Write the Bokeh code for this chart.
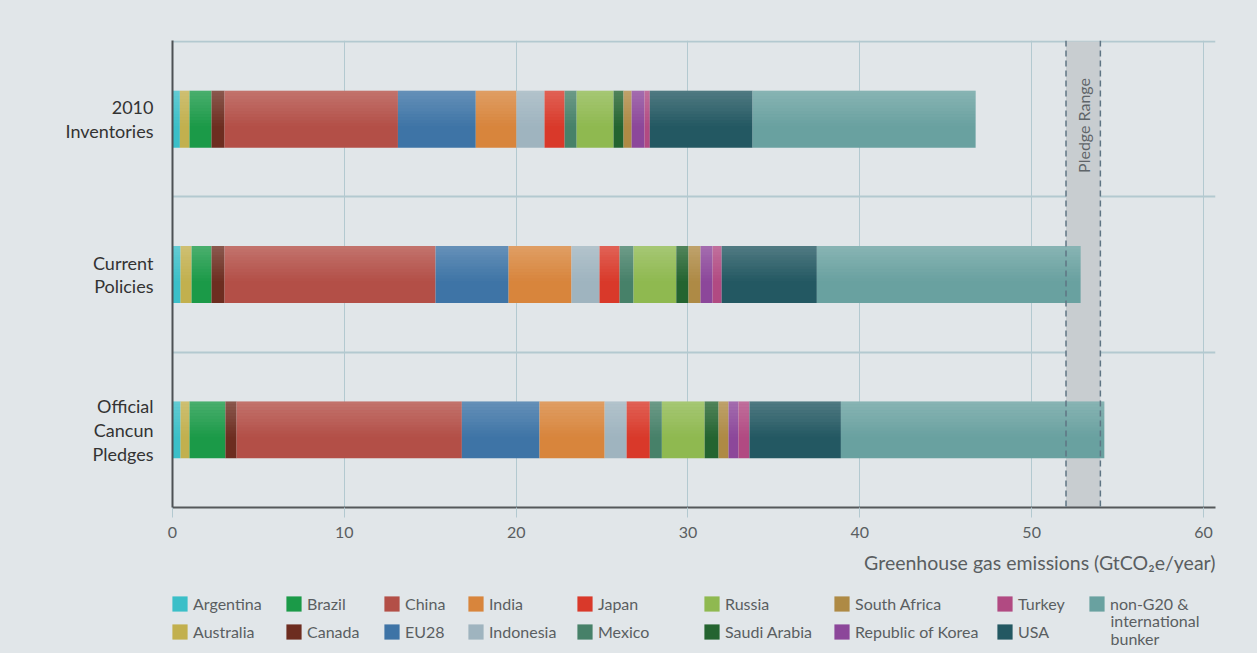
import math
from bokeh.plotting import figure
from bokeh.layouts import column
from bokeh.models import Range1d, FixedTicker, Span, Label, Legend, LegendItem
from bokeh.embed import file_html
from bokeh.resources import INLINE

# ---------------- data ----------------
countries = ["Argentina", "Australia", "Brazil", "Canada", "China", "EU28", "India",
             "Indonesia", "Japan", "Mexico", "Russia", "Saudi Arabia", "South Africa",
             "Republic of Korea", "Turkey", "USA", "non-G20 &"]
colors = ["#3bbfc8", "#c2b04e", "#1b9a48", "#6d2d20", "#b34f47", "#3e74a6", "#d8853c",
          "#9fb4bf", "#d9392a", "#478169", "#8fb950", "#246430", "#ae8a45",
          "#8c479a", "#b14a82", "#235862", "#69a1a0"]

scenarios = ["2010\nInventories", "Current\nPolicies", "Official\nCancun\nPledges"]
inventories_2010 = [0.43, 0.56, 1.28, 0.76, 10.09, 4.53, 2.37, 1.63, 1.17, 0.70, 2.15,
                    0.58, 0.47, 0.75, 0.31, 5.98, 12.98]
current_policies = [0.47, 0.64, 1.16, 0.76, 12.28, 4.25, 3.66, 1.63, 1.17, 0.81, 2.49,
                    0.71, 0.70, 0.70, 0.53, 5.54, 15.35]
cancun_pledges = [0.47, 0.52, 2.09, 0.65, 13.11, 4.52, 3.79, 1.28, 1.35, 0.70, 2.49,
                  0.81, 0.58, 0.58, 0.64, 5.32, 15.33]
pledge_range = [52, 54]
x_ticks = [0, 10, 20, 30, 40, 50, 60]
axis_title = "Greenhouse gas emissions (GtCO\u2082e/year)"
extra_label_lines = ["international", "bunker"]

series = [inventories_2010, current_policies, cancun_pledges]
y_pos = [2.5, 1.5, 0.5]

BG = "#e1e6e9"
GRID = "#b3c9d0"
TXT = "#5a5e61"
FONT = "Lato"
W = 1257
L, R = 172, 42

p = figure(width=W, height=548, output_backend="svg", toolbar_location=None,
           x_range=Range1d(0, 60.7), y_range=Range1d(0, 3.007),
           min_border_left=L, min_border_right=R, min_border_top=40,
           min_border_bottom=41, background_fill_color=BG, border_fill_color=BG,
           outline_line_color=None)

# pledge range band (behind bars)
p.quad(left=[pledge_range[0]], right=[pledge_range[1]], bottom=[0], top=[3],
       fill_color="#c8cdd0", line_color=None)

bar_h = 0.366
for i, name in enumerate(countries):
    lefts = [sum(s[:i]) for s in series]
    rights = [sum(s[:i + 1]) for s in series]
    p.hbar(y=y_pos, left=lefts, right=rights, height=bar_h,
           fill_color=colors[i], line_color=None)

# soft gradient sheen on top of bars
totals = [sum(s) for s in series]
n = 12
strip_h = 0.62 * bar_h / n
for k in range(n):
    a = 0.2 * (1 - k / n)
    ys = [c + bar_h / 2 - strip_h * (k + 0.5) for c in y_pos]
    p.hbar(y=ys, left=[0] * 3, right=totals, height=strip_h,
           fill_color="white", fill_alpha=a, line_color=None)

# dashed pledge lines
for v in pledge_range:
    p.add_layout(Span(location=v, dimension="height", line_color="#5f7584",
                      line_dash="6 4", line_width=1.5))
p.add_layout(Label(x=(pledge_range[0] + pledge_range[1]) / 2, y=2.46, text="Pledge Range",
                   angle=math.pi / 2, text_align="center", text_baseline="middle",
                   text_font=FONT, text_font_size="16px", text_color="#5f6569"))

# axes
p.xaxis.ticker = FixedTicker(ticks=x_ticks)
p.xaxis.axis_line_color = "#55585b"
p.xaxis.axis_line_width = 2
p.xaxis.major_tick_line_color = GRID
p.xaxis.major_tick_out = 10
p.xaxis.major_tick_in = 0
p.xaxis.minor_tick_line_color = None
p.xaxis.major_label_standoff = 9
p.xaxis.major_label_text_font = FONT
p.xaxis.major_label_text_font_size = "16px"
p.xaxis.major_label_text_color = TXT

p.yaxis.ticker = FixedTicker(ticks=y_pos)
p.yaxis.major_label_overrides = {y: s for y, s in zip(y_pos, scenarios)}
p.yaxis.axis_line_color = "#4d5154"
p.yaxis.axis_line_width = 2
p.yaxis.major_tick_line_color = None
p.yaxis.minor_tick_line_color = None
p.yaxis.major_label_standoff = 13
p.yaxis.major_label_text_font = FONT
p.yaxis.major_label_text_font_size = "18px"
p.yaxis.major_label_text_line_height = 1.08
p.yaxis.major_label_text_color = "#333333"

p.xgrid.ticker = FixedTicker(ticks=x_ticks)
p.xgrid.grid_line_color = GRID
p.xgrid.grid_line_width = 1
p.ygrid.ticker = FixedTicker(ticks=[1, 2, 3])
p.ygrid.grid_line_color = GRID
p.ygrid.grid_line_width = 2

# ---------------- bottom strip: axis title + legend ----------------
H2 = 653 - 548
p2 = figure(width=W, height=H2, output_backend="svg", toolbar_location=None,
            x_range=Range1d(L, W - R), y_range=Range1d(0, H2),
            x_axis_location=None, y_axis_location=None,
            min_border_left=L, min_border_right=R, min_border_top=0, min_border_bottom=0,
            background_fill_color=BG, background_fill_alpha=0,
            border_fill_color=BG, outline_line_color=None)
p2.grid.visible = False

p2.add_layout(Label(x=W - R, y=91, text=axis_title, text_align="right",
                    text_baseline="middle", text_font=FONT, text_font_size="19.5px",
                    text_color=TXT))

# legend proxies (no visible marks: NaN geometry)
nan = float("nan")
legend_renderers = []
for c in colors:
    legend_renderers.append(p2.quad(left=[nan], right=[nan], top=[nan], bottom=[nan],
                                    fill_color=c, line_color=None))

col_order = [(0, 1), (2, 3), (4, 5), (6, 7), (8, 9), (10, 11), (12, 13), (14, 15), (16,)]
col_x = [172, 286, 384, 468, 577, 704, 834, 997, 1089]
for cols, cx in zip(col_order, col_x):
    items = [LegendItem(label=countries[j], renderers=[legend_renderers[j]]) for j in cols]
    y_loc = 12 if len(cols) == 2 else 40
    lg = Legend(items=items, location=(cx - L - 2, y_loc), orientation="vertical",
                glyph_width=19, glyph_height=19, label_height=19, label_standoff=4,
                spacing=9, padding=0, margin=0, background_fill_alpha=0,
                border_line_alpha=0, label_text_font=FONT, label_text_font_size="16px",
                label_text_color=TXT, label_text_baseline="middle")
    p2.add_layout(lg, "center")

for txt, yy in zip(extra_label_lines, [33, 15]):
    p2.add_layout(Label(x=1110, y=yy, text=txt, text_align="left",
                        text_baseline="middle", text_font=FONT,
                        text_font_size="16px", text_color=TXT))

layout = column(p, p2, spacing=0, styles={"background-color": BG})
open("out.html", "w").write(file_html(layout, INLINE))
